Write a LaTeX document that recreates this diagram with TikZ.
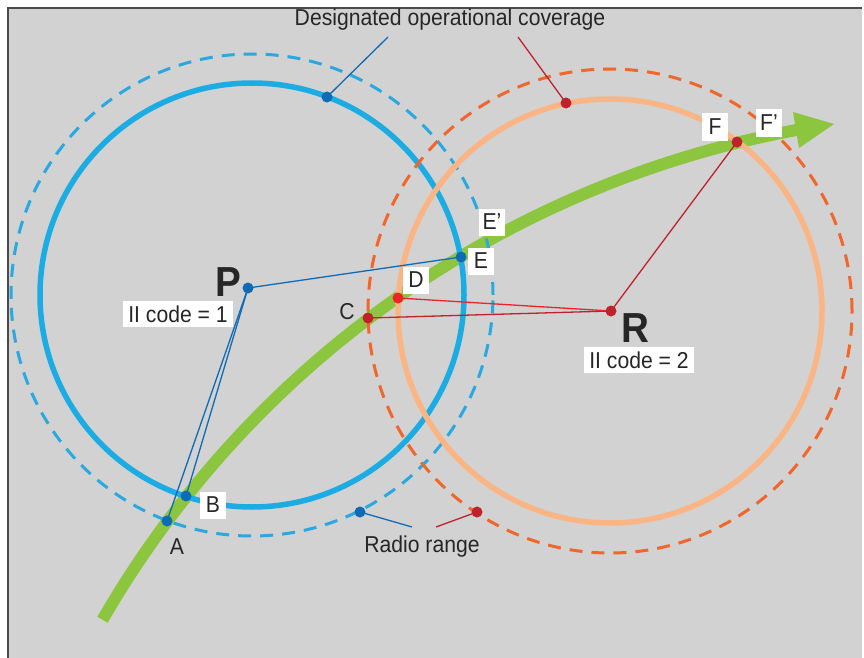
\documentclass[tikz,border=0pt]{standalone}
\usepackage{fontspec}
\setmainfont{Liberation Sans}[FakeStretch=0.92]
\definecolor{bggray}{HTML}{D2D2D2}
\definecolor{bluesolid}{HTML}{1AACE3}
\definecolor{bluedash}{HTML}{29A9E0}
\definecolor{darkblue}{HTML}{0F6BB5}
\definecolor{orsolid}{HTML}{FBB484}
\definecolor{ordash}{HTML}{F1662A}
\definecolor{darkred}{HTML}{C0222B}
\definecolor{brightred}{HTML}{EE2227}
\definecolor{trackgreen}{HTML}{8CC63F}
\definecolor{framedark}{HTML}{4A4A4A}
\begin{document}
\begin{tikzpicture}[x=1pt,y=-1pt,
  txt/.style={font=\fontsize{23}{25}\selectfont, text=black!85, inner sep=0pt},
  bigletter/.style={font=\fontsize{42}{44}\selectfont\bfseries, text=black!85, inner sep=0pt},
  letterbox/.style={txt, fill=white, minimum width=26pt, minimum height=27pt},
  codebox/.style={txt, fill=white, minimum width=110pt, minimum height=26pt},
  bdot/.style={circle, fill=darkblue, inner sep=0pt, minimum size=11pt},
  rdot/.style={circle, fill=darkred, inner sep=0pt, minimum size=11pt},
  brdot/.style={circle, fill=brightred, inner sep=0pt, minimum size=11pt},
  bline/.style={draw=darkblue, line width=1.3pt},
  rline/.style={draw=darkred, line width=1.3pt},
  brline/.style={draw=brightred, line width=1.3pt},
  covsolid/.style={line width=5.5pt},
  radiodash/.style={line width=3pt, dash pattern=on 13pt off 9pt},
]
\useasboundingbox (0,0) rectangle (864,658);
% background
\fill[white] (0,0) rectangle (864,658);
\fill[bggray] (8,8) rectangle (862,658);
\draw[framedark, line width=2pt] (8,658) -- (8,8) -- (862,8);

% green track (circular arc, centre (981,1128), r 1015)
\draw[trackgreen, line width=12pt] plot[domain=210.05:259.6, samples=80] ({981+1015*cos(\x)}, {1128+1015*sin(\x)});
\fill[trackgreen] (793,112) -- (834,124) -- (799,148) -- cycle;

% coverage circles
\draw[bluesolid, covsolid] (252,295) circle[radius=212pt];
\draw[bluedash, radiodash] (252,295) circle[radius=241pt];
\draw[orsolid, covsolid] (610,311) circle[radius=212pt];
\draw[ordash, radiodash] (610,311) circle[radius=242pt];

% points
\coordinate (P) at (248,288);
\coordinate (R) at (611,311);
\coordinate (A) at (167,521);
\coordinate (B) at (186,496);
\coordinate (C) at (368,318);
\coordinate (D) at (398,298);
\coordinate (E) at (461,257);
\coordinate (F) at (737,142);
\coordinate (covB) at (327,97);
\coordinate (covR) at (566,103);
\coordinate (radB) at (360,512);
\coordinate (radR) at (477,512);
\coordinate (covBend) at (388,37);
\coordinate (covRend) at (518,37);
\coordinate (radBend) at (412,527);
\coordinate (radRend) at (436,527);

% connectors
\draw[bline] (P) -- (A);
\draw[bline] (P) -- (B);
\draw[bline] (P) -- (E);
\draw[rline] (R) -- (C);
\draw[brline] (R) -- (D);
\draw[rline] (R) -- (F);
\draw[bline] (covB) -- (covBend);
\draw[rline] (covR) -- (covRend);
\draw[bline] (radB) -- (radBend);
\draw[rline] (radR) -- (radRend);

% dots
\node[bdot] (Pdot) at (P) {};
\node[rdot] (Rdot) at (R) {};
\node[bdot] (Adot) at (A) {};
\node[bdot] (Bdot) at (B) {};
\node[rdot] (Cdot) at (C) {};
\node[brdot] (Ddot) at (D) {};
\node[bdot] (Edot) at (E) {};
\node[rdot] (Fdot) at (F) {};
\node[bdot] (covBdot) at (covB) {};
\node[rdot] (covRdot) at (covR) {};
\node[bdot] (radBdot) at (radB) {};
\node[rdot] (radRdot) at (radR) {};

% texts
\node[txt] (covtext) at (450,20) {Designated operational coverage};
\node[txt] (radtext) at (422,547) {Radio range};
\node[bigletter] (Plab) at (228,282) {P};
\node[bigletter] (Rlab) at (635,328) {R};
\node[codebox] (Pcode) at (178,314) {II code = 1};
\node[codebox] (Rcode) at (639,360) {II code = 2};
\node[txt] (Alab) at (177,547) {A};
\node[letterbox] (Blab) at (213,505) {B};
\node[txt] (Clab) at (347,312) {C};
\node[letterbox] (Dlab) at (416,280) {D};
\node[letterbox] (Elab) at (481,261) {E};
\node[letterbox] (Eplab) at (492,222) {E’};
\node[letterbox] (Flab) at (715,127) {F};
\node[letterbox] (Fplab) at (769,123) {F’};
\end{tikzpicture}
\end{document}
